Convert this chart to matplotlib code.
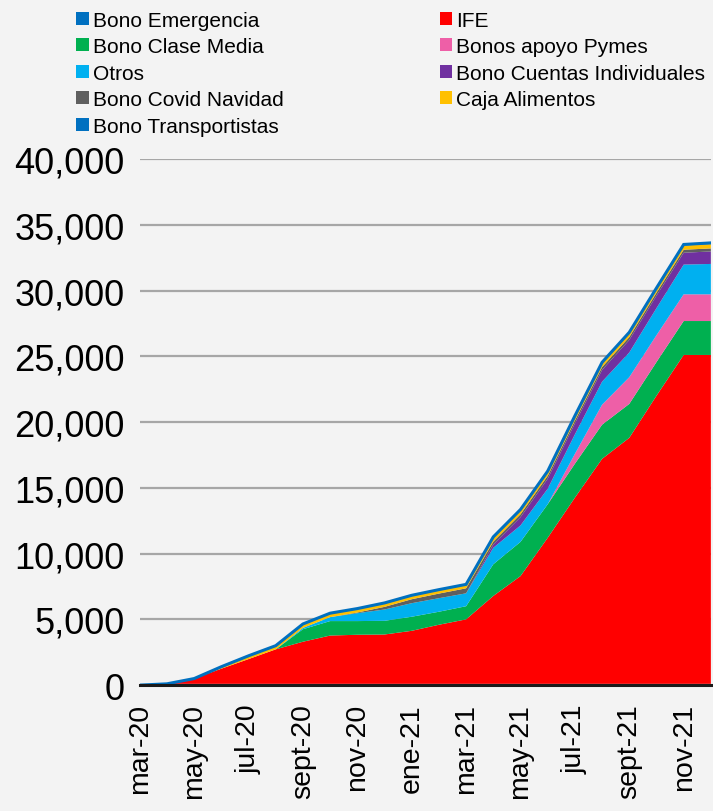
import numpy as np
import matplotlib.pyplot as plt
from matplotlib.patches import Patch
from matplotlib.ticker import FuncFormatter

plt.rcParams['font.family'] = ['Liberation Sans', 'DejaVu Sans']

meses = ['mar-20', 'abr-20', 'may-20', 'jun-20', 'jul-20', 'ago-20', 'sept-20',
         'oct-20', 'nov-20', 'dic-20', 'ene-21', 'feb-21', 'mar-21', 'abr-21',
         'may-21', 'jun-21', 'jul-21', 'ago-21', 'sept-21', 'oct-21', 'nov-21',
         'dic-21']

# montos acumulados por programa
bono_emergencia = [0, 100, 100, 100, 100, 100, 100, 100, 100, 100, 100, 100,
                   100, 100, 100, 100, 100, 100, 100, 100, 100, 100]
ife = [0, 0, 400, 1150, 1880, 2620, 3200, 3670, 3730, 3750, 4030, 4490,
       4900, 6680, 8190, 11100, 14150, 17100, 18700, 21900, 25000, 25000]
bono_clase_media = [0, 0, 0, 0, 0, 0, 950, 1100, 1040, 1040, 1070, 990,
                    1000, 2410, 2600, 2550, 2580, 2600, 2580, 2560, 2580, 2580]
bonos_pymes = [0, 0, 0, 0, 0, 0, 0, 0, 0, 0, 0, 0,
               0, 0, 0, 0, 750, 1520, 2030, 2040, 2030, 2030]
otros = [0, 0, 0, 0, 0, 0, 100, 300, 600, 860, 1030, 1030,
         980, 1250, 1250, 1180, 1480, 1750, 1880, 2060, 2260, 2310]
bono_cuentas = [0, 0, 0, 0, 0, 0, 0, 0, 0, 0, 0, 0,
                0, 250, 630, 760, 830, 890, 950, 950, 900, 950]
bono_covid_navidad = [0, 0, 0, 0, 0, 0, 0, 0, 50, 200, 300, 350,
                      380, 220, 220, 220, 220, 220, 220, 220, 230, 230]
caja_alimentos = [0, 0, 0, 150, 250, 280, 300, 300, 300, 300, 300, 300,
                  300, 300, 300, 300, 300, 300, 300, 300, 320, 330]
bono_transportistas = [0, 0, 0, 0, 0, 0, 0, 0, 0, 0, 0, 0,
                       0, 60, 60, 60, 60, 60, 60, 60, 80, 90]

series = [bono_emergencia, ife, bono_clase_media, bonos_pymes, otros,
          bono_cuentas, bono_covid_navidad, caja_alimentos, bono_transportistas]
nombres = ['Bono Emergencia', 'IFE', 'Bono Clase Media', 'Bonos apoyo Pymes',
           'Otros', 'Bono Cuentas Individuales', 'Bono Covid Navidad',
           'Caja Alimentos', 'Bono Transportistas']
colores = ['#0070C0', '#FF0000', '#00B050', '#EE5FA7', '#00B0F0',
           '#7030A0', '#5F5F5F', '#FFC000', '#0070C0']

x = np.arange(len(meses))
total = np.sum(np.array(series), axis=0)

fig = plt.figure(figsize=(7.13, 8.12), dpi=100, facecolor='#f3f3f3')
ax = fig.add_axes([0.196, 0.155, 0.801, 0.648])
ax.set_facecolor('none')

ax.stackplot(x, *series, colors=colores, linewidth=0, zorder=2)
# borde superior del área apilada
ax.plot(x, total, color='#0070C0', lw=2.2, zorder=3, solid_joinstyle='miter')

ax.set_xlim(0, len(meses) - 1)
ax.set_ylim(0, 40000)
ax.set_yticks(np.arange(0, 40001, 5000))
ax.yaxis.set_major_formatter(FuncFormatter(lambda v, p: f'{int(v):,}'))
ax.grid(axis='y', color='#a6a6a6', lw=1.6, zorder=1)
ax.set_axisbelow(True)

ax.set_xticks(x[::2])
ax.set_xticklabels(meses[::2], rotation=90, fontsize=20.5)
ax.tick_params(axis='x', length=0, pad=13)
ax.tick_params(axis='y', length=0, pad=11, labelsize=26)

for s in ['top', 'right', 'left']:
    ax.spines[s].set_visible(False)
ax.spines['bottom'].set_color('#1a1a1a')
ax.spines['bottom'].set_linewidth(2.2)
ax.spines['bottom'].set_zorder(4)

# leyenda en dos columnas, ordenada por filas
orden = [0, 2, 4, 6, 8, 1, 3, 5, 7]
handles = [Patch(facecolor=colores[i], edgecolor='none') for i in orden]
labels = [nombres[i] for i in orden]
fig.legend(handles, labels, ncol=2, loc='upper left',
           bbox_to_anchor=(0.095, 0.996), frameon=False, fontsize=15,
           handlelength=0.6, handleheight=0.6, handletextpad=0.2,
           labelspacing=0.36, columnspacing=7.5, borderaxespad=0)

fig.savefig('out.png', dpi=100, facecolor=fig.get_facecolor())
